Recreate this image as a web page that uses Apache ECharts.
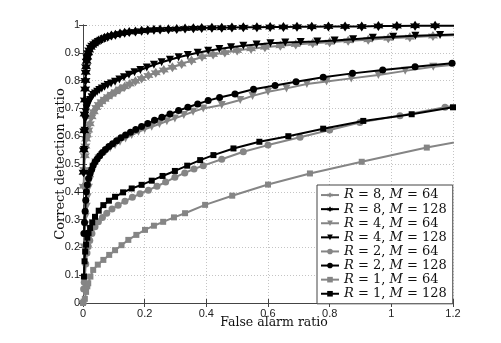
<!DOCTYPE html>
<html><head><meta charset="utf-8">
<script src="https://cdn.jsdelivr.net/npm/echarts@6/dist/echarts.min.js"></script>
<style>html,body{margin:0;padding:0;background:#fff}#c{width:501px;height:343px}</style>
</head><body><div id="c"></div>
<script>
// ---- data (false alarm ratio, correct detection ratio) ----
const xTicks = [0, 0.2, 0.4, 0.6, 0.8, 1, 1.2];
const yTicks = [0, 0.1, 0.2, 0.3, 0.4, 0.5, 0.6, 0.7, 0.8, 0.9, 1];
const seriesNames = ['R = 8, M = 64','R = 8, M = 128','R = 4, M = 64','R = 4, M = 128','R = 2, M = 64','R = 2, M = 128','R = 1, M = 64','R = 1, M = 128'];

const r8m64 = [[0.002,0.42],[0.004,0.48],[0.006,0.53],[0.008,0.565],[0.010,0.59],[0.013,0.605],[0.017,0.622],[0.022,0.645],[0.028,0.67],[0.035,0.688],[0.043,0.703],[0.051,0.714],[0.06,0.724],[0.07,0.733],[0.081,0.742],[0.093,0.751],[0.106,0.76],[0.12,0.77],[0.135,0.778],[0.152,0.788],[0.17,0.798],[0.19,0.808],[0.212,0.818],[0.236,0.828],[0.262,0.838],[0.29,0.848],[0.32,0.86],[0.352,0.872],[0.386,0.886],[0.422,0.894],[0.46,0.901],[0.5,0.908],[0.545,0.915],[0.59,0.92],[0.64,0.925],[0.69,0.93],[0.745,0.934],[0.8,0.938],[0.86,0.943],[0.925,0.947],[0.99,0.952],[1.06,0.956],[1.135,0.96],[1.21,0.963]];
const r8m128 = [[0.002,0.47],[0.003,0.55],[0.004,0.62],[0.005,0.68],[0.006,0.73],[0.007,0.77],[0.008,0.80],[0.009,0.83],[0.010,0.85],[0.012,0.87],[0.014,0.885],[0.017,0.90],[0.020,0.91],[0.025,0.92],[0.030,0.927],[0.036,0.933],[0.043,0.939],[0.051,0.944],[0.060,0.949],[0.070,0.954],[0.080,0.958],[0.092,0.962],[0.105,0.965],[0.12,0.969],[0.135,0.972],[0.15,0.975],[0.17,0.977],[0.19,0.979],[0.21,0.981],[0.23,0.983],[0.25,0.984],[0.277,0.985],[0.304,0.986],[0.331,0.987],[0.358,0.988],[0.385,0.989],[0.418,0.99],[0.45,0.99],[0.483,0.991],[0.52,0.992],[0.564,0.992],[0.607,0.993],[0.65,0.993],[0.694,0.994],[0.742,0.994],[0.796,0.995],[0.85,0.995],[0.904,0.995],[0.958,0.996],[1.018,0.996],[1.077,0.997],[1.142,0.997],[1.21,0.997]];
const r4m64 = [[0.003,0.20],[0.005,0.24],[0.007,0.28],[0.009,0.31],[0.012,0.346],[0.015,0.38],[0.019,0.415],[0.023,0.442],[0.028,0.468],[0.033,0.49],[0.04,0.505],[0.05,0.52],[0.061,0.532],[0.074,0.546],[0.088,0.558],[0.104,0.568],[0.12,0.58],[0.138,0.592],[0.158,0.604],[0.18,0.616],[0.2,0.625],[0.223,0.634],[0.248,0.644],[0.272,0.654],[0.298,0.664],[0.327,0.676],[0.357,0.688],[0.39,0.70],[0.45,0.712],[0.51,0.73],[0.55,0.745],[0.6,0.76],[0.66,0.772],[0.726,0.788],[0.79,0.797],[0.87,0.808],[0.958,0.82],[1.045,0.835],[1.136,0.85],[1.21,0.858]];
const r4m128 = [[0.003,0.55],[0.005,0.62],[0.007,0.66],[0.009,0.685],[0.012,0.70],[0.015,0.71],[0.019,0.72],[0.023,0.73],[0.028,0.74],[0.033,0.748],[0.039,0.754],[0.046,0.76],[0.053,0.766],[0.061,0.772],[0.07,0.778],[0.08,0.784],[0.091,0.79],[0.104,0.796],[0.118,0.804],[0.133,0.812],[0.149,0.821],[0.167,0.83],[0.186,0.838],[0.207,0.847],[0.23,0.857],[0.255,0.866],[0.282,0.875],[0.31,0.884],[0.34,0.892],[0.372,0.90],[0.406,0.907],[0.442,0.914],[0.48,0.92],[0.52,0.925],[0.563,0.93],[0.608,0.934],[0.656,0.937],[0.706,0.939],[0.76,0.941],[0.816,0.944],[0.876,0.949],[0.94,0.954],[1.006,0.958],[1.078,0.961],[1.158,0.964],[1.24,0.967]];
const r2m64 = [[0.002,0.05],[0.004,0.075],[0.006,0.095],[0.009,0.14],[0.013,0.18],[0.017,0.203],[0.022,0.225],[0.029,0.25],[0.039,0.274],[0.05,0.292],[0.063,0.308],[0.077,0.323],[0.094,0.338],[0.114,0.352],[0.136,0.366],[0.16,0.38],[0.185,0.393],[0.212,0.406],[0.24,0.42],[0.268,0.435],[0.298,0.452],[0.33,0.468],[0.36,0.482],[0.39,0.494],[0.45,0.517],[0.52,0.544],[0.60,0.568],[0.704,0.596],[0.80,0.622],[0.898,0.649],[1.028,0.674],[1.174,0.704],[1.22,0.712]];
const r2m128 = [[0.003,0.25],[0.005,0.29],[0.007,0.33],[0.009,0.37],[0.011,0.40],[0.014,0.425],[0.018,0.448],[0.023,0.466],[0.028,0.48],[0.033,0.495],[0.039,0.507],[0.046,0.518],[0.054,0.53],[0.063,0.541],[0.073,0.552],[0.084,0.563],[0.096,0.573],[0.109,0.584],[0.123,0.594],[0.138,0.604],[0.154,0.614],[0.171,0.624],[0.19,0.635],[0.21,0.646],[0.232,0.657],[0.256,0.668],[0.282,0.68],[0.31,0.692],[0.34,0.704],[0.372,0.716],[0.406,0.728],[0.443,0.739],[0.493,0.752],[0.553,0.769],[0.623,0.782],[0.691,0.796],[0.779,0.812],[0.874,0.826],[0.972,0.838],[1.077,0.85],[1.197,0.862]];
const r1m64 = [[0.0,0.0],[0.002,0.005],[0.006,0.015],[0.01,0.04],[0.014,0.06],[0.017,0.071],[0.024,0.095],[0.033,0.119],[0.048,0.138],[0.066,0.155],[0.085,0.173],[0.104,0.19],[0.125,0.208],[0.147,0.227],[0.173,0.245],[0.201,0.263],[0.23,0.278],[0.26,0.292],[0.295,0.308],[0.331,0.323],[0.396,0.353],[0.484,0.386],[0.60,0.426],[0.736,0.466],[0.904,0.508],[1.115,0.559],[1.24,0.585]];
const r1m128 = [[0.003,0.095],[0.005,0.15],[0.007,0.185],[0.01,0.21],[0.014,0.235],[0.018,0.252],[0.023,0.27],[0.03,0.29],[0.039,0.31],[0.051,0.332],[0.066,0.352],[0.084,0.368],[0.104,0.382],[0.13,0.398],[0.158,0.412],[0.19,0.425],[0.223,0.44],[0.258,0.457],[0.298,0.475],[0.338,0.494],[0.38,0.514],[0.423,0.532],[0.488,0.556],[0.572,0.58],[0.666,0.60],[0.779,0.627],[0.909,0.655],[1.066,0.679],[1.2,0.704]];

// ---- chart ----
const GRAY = '#858585', BLACK = '#000000';
const hexagram = 'path://M1,0 L1.32,0.55 L1.87,0.5 L1.6,1 L1.87,1.5 L1.32,1.45 L1,2 L0.68,1.45 L0.13,1.5 L0.4,1 L0.13,0.5 L0.68,0.55 Z';
const seriesData = [r8m64, r8m128, r4m64, r4m128, r2m64, r2m128, r1m64, r1m128];
const colors = [GRAY, BLACK, GRAY, BLACK, GRAY, BLACK, GRAY, BLACK];
const symbols = [hexagram, hexagram, 'triangle', 'triangle', 'circle', 'circle', 'rect', 'rect'];
const sizes = [10, 10, 8, 8, 7, 7, 6, 6];
const rots = [0, 0, 180, 180, 0, 0, 0, 0];
const SERIF = 'DejaVu Serif';

const series = seriesData.map((d, i) => ({
  name: seriesNames[i], type: 'line', data: d,
  symbol: symbols[i], symbolSize: sizes[i], symbolRotate: rots[i],
  showAllSymbol: true, clip: true, showSymbol: true,
  lineStyle: {color: colors[i], width: 2},
  itemStyle: {color: colors[i], borderWidth: 0},
  animation: false, z: 3 + i
}));

const chart = echarts.init(document.getElementById('c'), null, {renderer: 'canvas'});
const axisCommon = {
  axisLine: {show: true, lineStyle: {color: '#444', width: 1}},
  axisTick: {show: true, inside: true, length: 4, lineStyle: {color: '#444'}},
};
chart.setOption({
  animation: false,
  backgroundColor: '#fff',
  grid: {left: 83, right: 48, top: 25, bottom: 40, show: false},
  legend: {
    data: seriesNames,
    orient: 'vertical', left: 317, top: 185,
    padding: [3, 6, 3, 3], itemGap: 0, itemWidth: 18, itemHeight: 7,
    backgroundColor: '#fff', borderColor: '#444', borderWidth: 1,
    formatter: n => n.replace('R', '{i|R}').replace('M', '{i|M}'),
    textStyle: {fontFamily: SERIF, fontSize: 13, color: '#111', lineHeight: 14.1,
      rich: {i: {fontStyle: 'italic', fontFamily: SERIF, fontSize: 13, lineHeight: 14.1}}}
  },
  xAxis: [Object.assign({
    type: 'value', min: 0, max: 1.2, interval: 0.2, position: 'bottom',
    name: 'False alarm ratio', nameLocation: 'middle', nameGap: 13, nameMoveOverlap: false,
    nameTextStyle: {fontFamily: SERIF, fontSize: 12.5, color: '#111', padding: [0, 0, 0, 12]},
    axisLabel: {fontFamily: 'Liberation Sans', fontSize: 11, color: '#222', margin: 5},
    splitLine: {show: true, lineStyle: {color: '#c4c4c4', type: [1, 2], width: 1}}
  }, axisCommon), Object.assign({
    type: 'value', min: 0, max: 1.2, interval: 0.2, position: 'top',
    axisLabel: {show: false}, splitLine: {show: false}
  }, axisCommon)],
  yAxis: [Object.assign({
    type: 'value', min: 0, max: 1, interval: 0.1, position: 'left',
    name: 'Correct detection ratio', nameLocation: 'middle', nameGap: 16, nameMoveOverlap: false,
    nameTextStyle: {fontFamily: SERIF, fontSize: 13, color: '#111'},
    axisLabel: {fontFamily: 'Liberation Sans', fontSize: 11, color: '#222', margin: 3},
    splitLine: {show: true, lineStyle: {color: '#c4c4c4', type: [1, 2], width: 1}}
  }, axisCommon), Object.assign({
    type: 'value', min: 0, max: 1, interval: 0.1, position: 'right',
    axisLabel: {show: false}, splitLine: {show: false}
  }, axisCommon)],
  series: series
});
</script></body></html>
